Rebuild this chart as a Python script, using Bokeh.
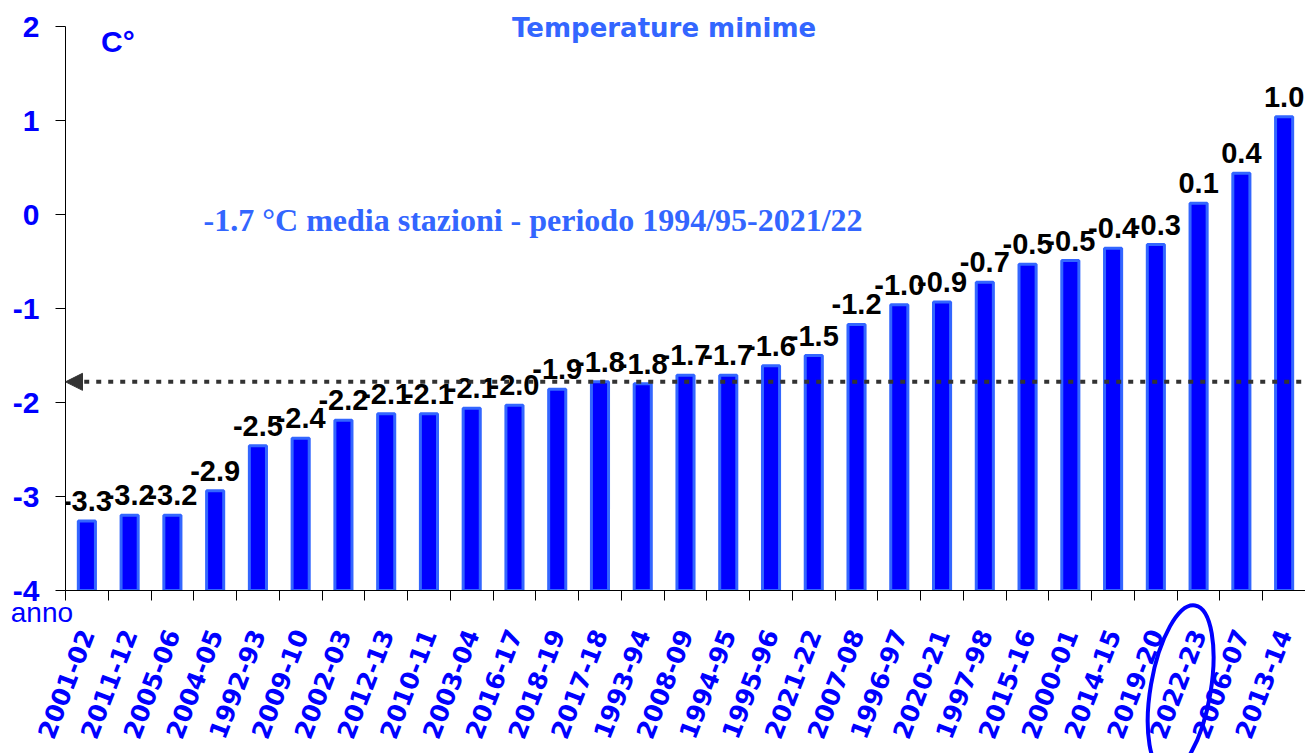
from bokeh.plotting import figure
from bokeh.models import (Range1d, FixedTicker, Label, Arrow, NormalHead, ColumnDataSource)
from bokeh.core.properties import value
from bokeh.embed import file_html
from bokeh.resources import INLINE

# ---- data ----
seasons = ["2001-02", "2011-12", "2005-06", "2004-05", "1992-93", "2009-10", "2002-03",
           "2012-13", "2010-11", "2003-04", "2016-17", "2018-19", "2017-18", "1993-94",
           "2008-09", "1994-95", "1995-96", "2021-22", "2007-08", "1996-97", "2020-21",
           "1997-98", "2015-16", "2000-01", "2014-15", "2019-20", "2022-23", "2006-07",
           "2013-14"]
tmin = [-3.26, -3.20, -3.20, -2.94, -2.46, -2.38, -2.19, -2.12, -2.12, -2.06, -2.03,
        -1.86, -1.78, -1.80, -1.71, -1.71, -1.61, -1.50, -1.17, -0.96, -0.93, -0.72,
        -0.53, -0.49, -0.36, -0.32, 0.12, 0.44, 1.04]
media = -1.78
highlight = "2022-23"
y_ticks = [-4, -3, -2, -1, 0, 1, 2]

BLUE = "#0000ff"
LIGHT = "#3366ff"

idx = list(range(len(seasons)))
src = ColumnDataSource(dict(x=idx, top=tmin, lab=[f"{v:.1f}" for v in tmin]))

p = figure(width=1305, height=753, output_backend="svg", toolbar_location=None,
           x_range=Range1d(-0.5, 28.5), y_range=Range1d(-4, 2),
           min_border_left=65, min_border_right=0, min_border_top=26, min_border_bottom=163)
p.outline_line_color = None
p.xgrid.visible = False
p.ygrid.visible = False
p.background_fill_color = "white"

# bars
p.vbar(x="x", top="top", bottom=-4, width=0.40, source=src,
       fill_color=BLUE, line_color=LIGHT, line_width=3)

# data labels
p.text(x="x", y="top", text="lab", source=src, text_align="center",
       text_baseline="alphabetic", y_offset=-20,
       text_font=value("Liberation Sans"), text_font_style="bold",
       text_font_size=value("29px"), text_color="black")

# y axis
ya = p.yaxis[0]
ya.ticker = FixedTicker(ticks=y_ticks, minor_ticks=[])
ya.major_label_overrides = {t: str(t) for t in y_ticks}
ya.major_tick_out = 10
ya.major_tick_in = 0
ya.major_label_standoff = 16
ya.major_label_text_font = "Liberation Sans"
ya.major_label_text_font_style = "bold"
ya.major_label_text_font_size = "30px"
ya.major_label_text_color = BLUE
ya.axis_line_color = "black"

# x axis
xa = p.xaxis[0]
xa.ticker = FixedTicker(ticks=idx, minor_ticks=[i + 0.5 for i in range(-1, len(seasons))])
xa.major_label_overrides = {i: s for i, s in enumerate(seasons)}
xa.major_tick_out = 0
xa.major_tick_in = 0
xa.minor_tick_out = 10
xa.minor_tick_in = 0
xa.minor_tick_line_color = "black"
xa.major_label_orientation = 1.2
xa.major_label_standoff = 30
xa.major_label_text_font = "DejaVu Sans"
xa.major_label_text_font_style = "bold"
xa.major_label_text_font_size = "25px"
xa.major_label_text_color = BLUE
xa.axis_line_color = "black"

# mean line with arrow
p.add_layout(Arrow(x_start=28.4, y_start=media, x_end=-0.5, y_end=media,
                   line_color="#333333", line_width=4, line_dash="5 7",
                   end=NormalHead(size=17, fill_color="#333333", line_color="#333333",
                                  line_width=1),
                   start=None))

# texts
p.text(x=[13.5], y=[1.98], text=["Temperature minime"], text_align="center",
       text_baseline="alphabetic", text_font=value("DejaVu Sans"), text_font_style="bold",
       text_font_size=value("26px"), text_color=LIGHT, level="overlay")
p.add_layout(Label(x=0.33, y=1.837, text="C°", text_font="Liberation Sans",
                   text_baseline="alphabetic",
                   text_font_style="bold", text_font_size="30px", text_color=BLUE))
p.add_layout(Label(x=2.73, y=-0.062, text="-1.7 °C media stazioni - periodo 1994/95-2021/22",
                   text_font="Liberation Serif", text_font_style="bold",
                   text_baseline="alphabetic",
                   text_font_size="32px", text_color=LIGHT))
p.text(x=[-1.78], y=[-4.23], text=["anno"], text_align="left", text_baseline="alphabetic",
       text_font=value("Liberation Sans"), text_font_size=value("28px"), text_color=BLUE,
       level="overlay")

# ellipse around highlighted season
hi = seasons.index(highlight)
p.ellipse(x=[hi - 0.42], y=[-5.05], width=170, height=60, width_units="screen",
          height_units="screen", angle=1.40, fill_color=None, line_color=BLUE,
          line_width=4, level="overlay")

open("out.html", "w").write(file_html(p, INLINE))
